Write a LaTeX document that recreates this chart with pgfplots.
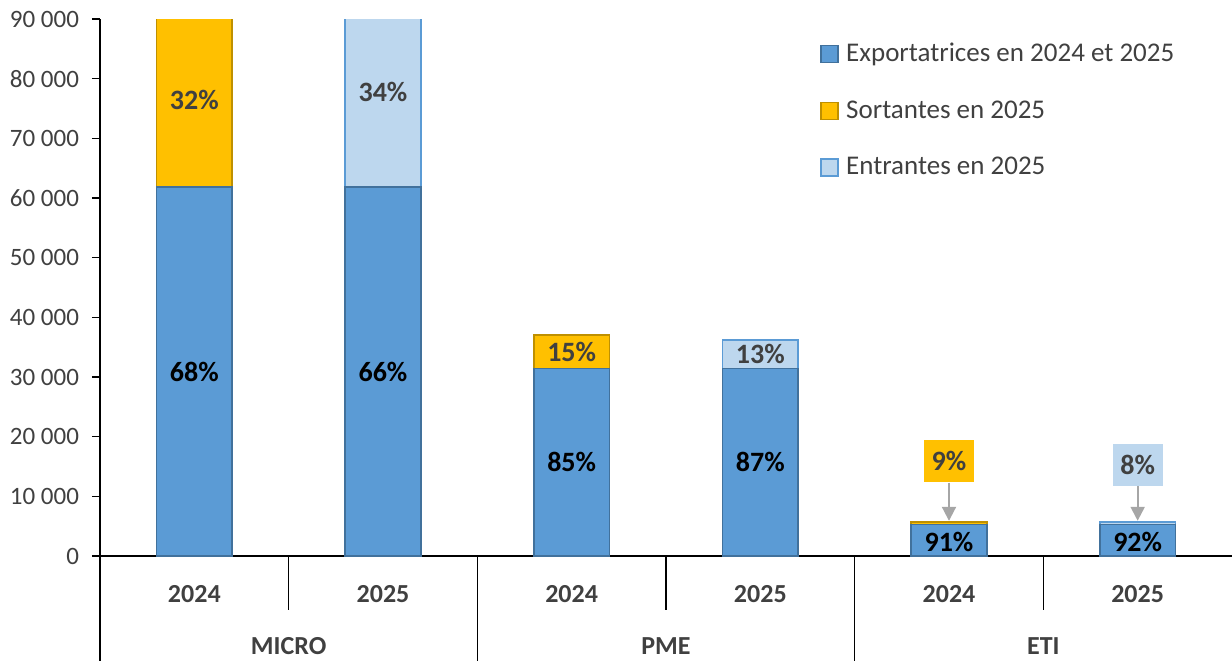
\documentclass[border=0pt]{standalone}
\usepackage{pgfplots}
\pgfplotsset{compat=1.18}
\usepackage{fontspec}
\setmainfont{Carlito}
\usetikzlibrary{arrows.meta}
\definecolor{cblue}{HTML}{5B9BD5}
\definecolor{cblueE}{HTML}{41719C}
\definecolor{corange}{HTML}{FFC000}
\definecolor{corangeE}{HTML}{BF9000}
\definecolor{clight}{HTML}{BDD7EE}
\definecolor{clightE}{HTML}{5B9BD5}
\definecolor{txt}{HTML}{404040}
\definecolor{arr}{HTML}{A6A6A6}
\begin{document}
\begin{tikzpicture}
\begin{axis}[name=ax, at={(0,0)}, anchor=south west, scale only axis,
  width=566pt, height=268.5pt,
  xmin=-0.5, xmax=5.5, ymin=0, ymax=90000,
  scaled y ticks=false,
  clip mode=individual,
  axis x line*=bottom, axis y line*=left,
  axis line style={black, line width=0.8pt},
  xtick={0,1,2,3,4,5}, xticklabels={2024,2025,2024,2025,2024,2025},
  xtick style={draw=none},
  xticklabel style={anchor=center, yshift=-15pt, font=\bfseries\fontsize{13}{15}\selectfont, text=txt},
  ytick={0,10000,...,90000},
  yticklabels={0,10 000,20 000,30 000,40 000,50 000,60 000,70 000,80 000,90 000},
  yticklabel style={font=\fontsize{12.5}{14}\selectfont, text=txt, xshift=-3pt},
  tick align=outside, major tick length=4pt,
  ytick style={black, line width=0.8pt},
  legend cell align=left,
  legend style={at={(0.6357,0.963)}, anchor=north west, draw=none, fill=none,
    font=\fontsize{13.5}{15}\selectfont, text=txt, row sep=14pt, inner sep=0pt},
  legend image code/.code={\draw[#1, line width=0.8pt] (0pt,-4.25pt) rectangle (8.5pt,4.25pt); \path (10.5pt,0pt);},
]
% totals (top segments)
\addplot[ybar, bar width=0.4, bar shift=0pt, fill=corange, draw=corangeE, line width=0.8pt, forget plot]
  coordinates {(0,91000) (2,37000) (4,5720)};
\addplot[ybar, bar width=0.4, bar shift=0pt, fill=clight, draw=clightE, line width=0.8pt, forget plot]
  coordinates {(1,93600) (3,36200) (5,5700)};
% exporters in both years
\addplot[ybar, bar width=0.4, bar shift=0pt, fill=cblue, draw=cblueE, line width=0.8pt, forget plot]
  coordinates {(0,61800) (1,61800) (2,31400) (3,31400) (4,5250) (5,5250)};
\addlegendimage{fill=cblue, draw=cblueE}
\addlegendentry{Exportatrices en 2024 et 2025}
\addlegendimage{fill=corange, draw=corangeE}
\addlegendentry{Sortantes en 2025}
\addlegendimage{fill=clight, draw=clightE}
\addlegendentry{Entrantes en 2025}
% labels
\tikzset{pl/.style={font=\bfseries\fontsize{14}{16}\selectfont}}
\node[pl, text=black] at (axis cs:0,30900) {68\%};
\node[pl, text=black] at (axis cs:1,30900) {66\%};
\node[pl, text=black] at (axis cs:2,15700) {85\%};
\node[pl, text=black] at (axis cs:3,15700) {87\%};
\node[pl, text=black] at (axis cs:4,2400) {91\%};
\node[pl, text=black] at (axis cs:5,2400) {92\%};
\node[pl, text=txt] at (axis cs:0,76400) {32\%};
\node[pl, text=txt] at (axis cs:1,77700) {34\%};
\node[pl, text=txt] at (axis cs:2,34200) {15\%};
\node[pl, text=txt] at (axis cs:3,33800) {13\%};
\node[pl, text=txt, fill=corange, minimum width=25pt, minimum height=21pt, inner sep=0pt] (c9) at (axis cs:4,15900) {9\%};
\node[pl, text=txt, fill=clight, minimum width=25pt, minimum height=21pt, inner sep=0pt] (c8) at (axis cs:5,15250) {8\%};
\draw[arr, line width=1pt, -{Triangle[width=7pt,length=7pt]}] (c9.south) -- (axis cs:4,5900);
\draw[arr, line width=1pt, -{Triangle[width=7pt,length=7pt]}] (c8.south) -- (axis cs:5,5900);
\end{axis}
% category separators and group labels
\draw[black, line width=0.8pt] (0,0) -- (0,-52.5pt);
\draw[black, line width=0.8pt] (188.667pt,0) -- (188.667pt,-52.5pt);
\draw[black, line width=0.8pt] (377.333pt,0) -- (377.333pt,-52.5pt);
\draw[black, line width=0.8pt] (94.333pt,0) -- (94.333pt,-27pt);
\draw[black, line width=0.8pt] (283pt,0) -- (283pt,-27pt);
\draw[black, line width=0.8pt] (471.667pt,0) -- (471.667pt,-27pt);
\tikzset{gl/.style={font=\bfseries\fontsize{13}{15}\selectfont, text=txt}}
\node[gl] at (94.333pt,-45pt) {MICRO};
\node[gl] at (283pt,-45pt) {PME};
\node[gl] at (471.667pt,-45pt) {ETI};
\pgfresetboundingbox
\path[use as bounding box] (-50pt,-52.5pt) rectangle (566pt,278pt);
\end{tikzpicture}
\end{document}
